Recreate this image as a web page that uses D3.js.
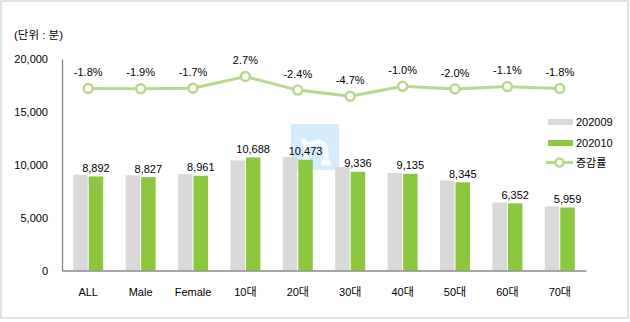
<!DOCTYPE html>
<html><head><meta charset="utf-8">
<script src="https://cdn.jsdelivr.net/npm/d3@7"></script>
<style>body{margin:0;background:#fff}svg{display:block}text{font-family:"Liberation Sans","Noto Sans CJK KR",sans-serif;fill:#000}</style>
</head><body><svg id="c" width="630" height="322"></svg>
<script>
const categories = ["ALL","Male","Female","10대","20대","30대","40대","50대","60대","70대"];
const v202009 = [9055,8998,9116,10407,10730,9796,9227,8515,6423,6068];
const v202010 = [8892,8827,8961,10688,10473,9336,9135,8345,6352,5959];
const rate = [-1.8,-1.9,-1.7,2.7,-2.4,-4.7,-1.0,-2.0,-1.1,-1.8];
const yTicks = [0,5000,10000,15000,20000];
const seriesNames = ["202009","202010","증감률"];

const svg = d3.select("#c");
const cGray = "#d9d9d9", cGreen = "#8dc63f", cLine = "#b7d98c";
svg.append("rect").attr("x",1).attr("y",1).attr("width",627).attr("height",317)
  .attr("fill","#fff").attr("stroke","#d9d9d9").attr("stroke-width",1.5);

const x = d3.scaleBand().domain(categories).range([62,586]);
const y = d3.scaleLinear().domain([0,20000]).range([270.5,59]);
const y2 = d3.scaleLinear().domain([-70,10]).range([270.5,57]);
const fmtPct = v => v.toFixed(1).replace("\u2212","-") + "%";

// y axis
const ya = svg.append("g").attr("transform","translate(62,0)")
  .call(d3.axisLeft(y).tickValues(yTicks).tickSize(0).tickPadding(14).tickFormat(d3.format(",")));
ya.select(".domain").attr("stroke","#888").attr("stroke-width",1.3);
ya.selectAll("text").style("font-size","11px");

svg.append("text").attr("x",14).attr("y",39).style("font-size","11.5px").text("(단위 : 분)");

const bw = 14.5;
const g = svg.append("g");
g.selectAll(".b1").data(categories).join("rect")
  .attr("x",d=>x(d)+x.bandwidth()/2-bw-0.5).attr("width",bw)
  .attr("y",(d,i)=>y(v202009[i])).attr("height",(d,i)=>y(0)-y(v202009[i])).attr("fill",cGray);
g.selectAll(".b2").data(categories).join("rect")
  .attr("x",d=>x(d)+x.bandwidth()/2+0.5).attr("width",bw)
  .attr("y",(d,i)=>y(v202010[i])).attr("height",(d,i)=>y(0)-y(v202010[i])).attr("fill",cGreen);

// watermark (drawn over bars, under labels)
svg.append("rect").attr("x",291).attr("y",124).attr("width",48).attr("height",46)
  .attr("fill","rgb(170,220,250)").attr("opacity",0.5);
svg.append("path")
  .attr("d","M306,141 L306,163 M306,149 C309,141 326,138 326,151 L326,163 M301,163 L311,163 M321,163 L331,163 M301,141 L306,141")
  .attr("fill","none").attr("stroke","#fff").attr("stroke-width",5).attr("opacity",0.85);

g.selectAll(".bl").data(categories).join("text")
  .attr("x",d=>x(d)+x.bandwidth()/2+0.5+bw/2).attr("y",(d,i)=>y(v202010[i])-4.5)
  .attr("text-anchor","middle").style("font-size","11px").text((d,i)=>d3.format(",")(v202010[i]));
g.raise();

// x axis
const xa = svg.append("g").attr("transform","translate(0,270.5)")
  .call(d3.axisBottom(x).tickSize(0).tickPadding(18));
xa.select(".domain").attr("stroke","#888").attr("stroke-width",1.3);
xa.selectAll("text").style("font-size","11px");

// line
const cx = d => x(d)+x.bandwidth()/2;
svg.append("path").datum(categories)
  .attr("d",d3.line().x(cx).y((d,i)=>y2(rate[i])))
  .attr("fill","none").attr("stroke",cLine).attr("stroke-width",3);
svg.selectAll(".pt").data(categories).join("circle")
  .attr("cx",cx).attr("cy",(d,i)=>y2(rate[i])).attr("r",4.5)
  .attr("fill","#fff").attr("stroke",cLine).attr("stroke-width",2.5);
svg.selectAll(".pl").data(categories).join("text")
  .attr("x",cx).attr("y",(d,i)=>y2(rate[i])-12.5).attr("text-anchor","middle")
  .style("font-size","11px").text((d,i)=>fmtPct(rate[i]));

// legend
const lg = svg.append("g");
lg.append("rect").attr("x",548).attr("y",119).attr("width",25).attr("height",6).attr("fill",cGray);
lg.append("rect").attr("x",548).attr("y",140).attr("width",25).attr("height",6).attr("fill",cGreen);
lg.append("line").attr("x1",546).attr("x2",573).attr("y1",162.5).attr("y2",162.5).attr("stroke",cLine).attr("stroke-width",3);
lg.append("circle").attr("cx",559.5).attr("cy",162.5).attr("r",4).attr("fill","#fff").attr("stroke",cLine).attr("stroke-width",2.5);
[125.5,146.5,167].forEach((yy,i)=>lg.append("text").attr("x",576).attr("y",yy).style("font-size","11px").text(seriesNames[i]));
</script></body></html>
